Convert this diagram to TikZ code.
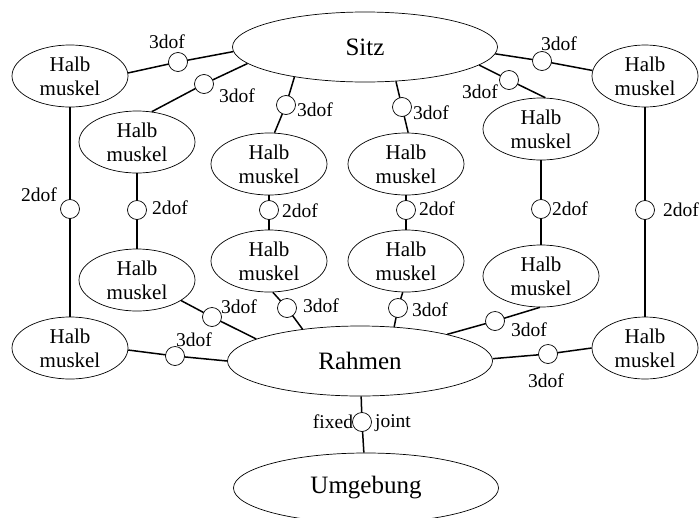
\documentclass[tikz,border=0pt]{standalone}
\usepackage{fontspec}
\setmainfont{Liberation Serif}
\usetikzlibrary{shapes.geometric,backgrounds}
\begin{document}
\begin{tikzpicture}[x=1pt,y=-1pt,
  htxt/.style={align=center, font=\fontsize{21}{24}\selectfont, inner sep=0pt},
  halb/.style={ellipse, draw, line width=0.7pt, minimum width=116pt, minimum height=62pt, inner sep=0pt,
     label={[htxt]center:{Halb\\muskel}}},
  big/.style={ellipse, draw, line width=0.7pt, minimum width=265pt, minimum height=70pt, inner sep=0pt,
     font=\fontsize{25}{30}\selectfont},
  jt/.style={circle, draw, fill=white, line width=0.7pt, minimum size=19pt, inner sep=0pt},
  lbl/.style={font=\fontsize{19.5}{22}\selectfont, inner sep=0pt},
  conn/.style={line width=1.5pt}]
\useasboundingbox (0,0) rectangle (699,517);

% main ellipses
\node[big] (sitz) at (365,47) {Sitz};
\node[big] (rahmen) at (360,361) {Rahmen};
\node[big] (umg) at (366,488) {Umgebung};

% half muscles
\node[halb] (tl) at (70,76) {};
\node[halb] (bl) at (70,348) {};
\node[halb, minimum width=106pt] (tr) at (645,76) {};
\node[halb, minimum width=106pt] (br) at (645,348) {};
\node[halb] (l2) at (137,142) {};
\node[halb] (l2b) at (137,280) {};
\node[halb] (c3) at (269,164) {};
\node[halb] (c3b) at (269,261) {};
\node[halb] (c4) at (406,164) {};
\node[halb] (c4b) at (406,261) {};
\node[halb] (c5) at (541,129) {};
\node[halb] (c5b) at (541,276) {};

% joints
\node[jt] (j1) at (178,62) {};
\node[jt] (j2) at (204,84) {};
\node[jt] (j3) at (286,105) {};
\node[jt] (j4) at (402,107) {};
\node[jt] (j5) at (509,80) {};
\node[jt] (j6) at (542,61) {};
\node[jt] (j7) at (70,209) {};
\node[jt] (j8) at (137,210) {};
\node[jt] (j9) at (269,210) {};
\node[jt] (j10) at (406,210) {};
\node[jt] (j11) at (541,209) {};
\node[jt] (j12) at (645,210) {};
\node[jt] (j13) at (212,317) {};
\node[jt] (j14) at (287,308) {};
\node[jt] (j15) at (398,308) {};
\node[jt] (j16) at (495,321) {};
\node[jt] (j17) at (175,356) {};
\node[jt] (j18) at (548,354) {};
\node[jt] (jf) at (362,422) {};

% connectors
\begin{scope}[on background layer]
\draw[conn] (sitz.182) -- (j1.center) -- (tl.3);
\draw[conn] (sitz.188) -- (j2.center) -- (l2.64);
\draw[conn] (sitz.203) -- (j3.center) -- (c3.80);
\draw[conn] (sitz.312) -- (j4.center) -- (c4.86);
\draw[conn] (sitz.351) -- (j5.center) -- (c5.82);
\draw[conn] (sitz.357) -- (j6.center) -- (tr.174);
\draw[conn] (tl) -- (j7.center) -- (bl);
\draw[conn] (l2) -- (j8.center) -- (l2b);
\draw[conn] (c3) -- (j9.center) -- (c3b);
\draw[conn] (c4) -- (j10.center) -- (c4b);
\draw[conn] (c5) -- (j11.center) -- (c5b);
\draw[conn] (tr) -- (j12.center) -- (br);
\draw[conn] (l2b.335) -- (j13.center) -- (rahmen.168);
\draw[conn] (c3b.277) -- (j14.center) -- (rahmen.151);
\draw[conn] (c4b.264) -- (j15.center) -- (rahmen.45);
\draw[conn] (c5b.268) -- (j16.center) -- (rahmen.17);
\draw[conn] (bl.358) -- (j17.center) -- (rahmen.180);
\draw[conn] (rahmen.1) -- (j18.center) -- (br.180);
\draw[conn] (rahmen) -- (jf.center) -- (umg);
\end{scope}

% labels
\node[lbl] (t1) at (167,42) {3dof};
\node[lbl] (t2) at (237,96) {3dof};
\node[lbl] (t3) at (315,110) {3dof};
\node[lbl] (t4) at (431,113) {3dof};
\node[lbl] (t5) at (480,92) {3dof};
\node[lbl] (t6) at (559,44) {3dof};
\node[lbl] (t7) at (39,195) {2dof};
\node[lbl] (t8) at (170,208) {2dof};
\node[lbl] (t9) at (300,211) {2dof};
\node[lbl] (t10) at (437,209) {2dof};
\node[lbl] (t11) at (570,209) {2dof};
\node[lbl] (t12) at (681,210) {2dof};
\node[lbl] (t13) at (239,307) {3dof};
\node[lbl] (t14) at (321,306) {3dof};
\node[lbl] (t15) at (430,310) {3dof};
\node[lbl] (t16) at (529,330) {3dof};
\node[lbl] (t17) at (194,340) {3dof};
\node[lbl] (t18) at (546,381) {3dof};
\node[lbl] (tfx) at (333,422) {fixed};
\node[lbl] (tjt) at (393,423) {joint};
\end{tikzpicture}
\end{document}
